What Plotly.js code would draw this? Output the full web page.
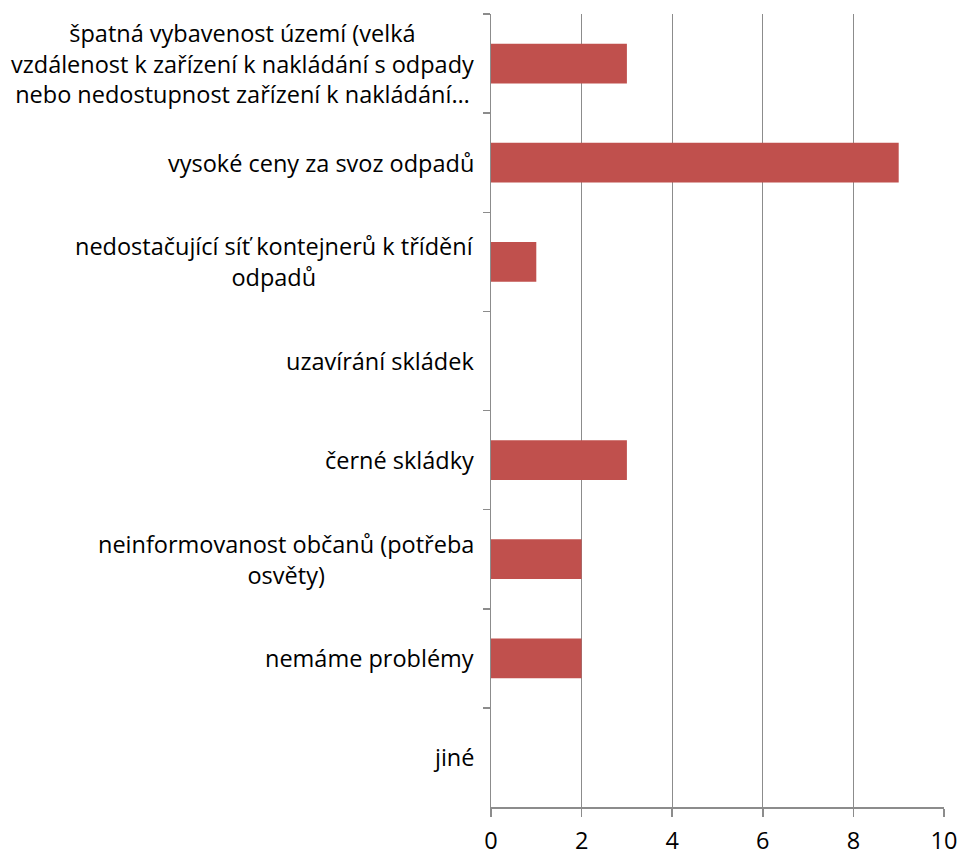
<!DOCTYPE html>
<html><head><meta charset="utf-8">
<script src="https://cdn.plot.ly/plotly-3.0.1.min.js"></script>
<style>body{margin:0;background:#fff}#chart{width:959px;height:850px}</style>
</head><body><div id="chart"></div>
<script>
const categories = [
  "špatná vybavenost území (velká<br>vzdálenost k zařízení k nakládání s odpady<br>nebo nedostupnost zařízení k nakládání…",
  "vysoké ceny za svoz odpadů",
  "nedostačující síť kontejnerů k třídění<br>odpadů",
  "uzavírání skládek",
  "černé skládky",
  "neinformovanost občanů (potřeba<br>osvěty)",
  "nemáme problémy",
  "jiné"
];
const values = [3, 9, 1, 0, 3, 2, 2, 0];
const xTicks = [0, 2, 4, 6, 8, 10];

const ids = categories.map((c, i) => "c" + i);
const font = {family: "Open Sans, Lato, sans-serif", size: 23.5, color: "#000"};

const annotations = categories.map((c, i) => ({
  text: c, xref: "paper", yref: "y", x: 0, y: ids[i],
  xanchor: "right", yanchor: "middle", align: "center",
  xshift: -15, showarrow: false, font: font
}));

Plotly.newPlot("chart", [{
  type: "bar", orientation: "h", x: values, y: ids,
  marker: {color: "#C0504D", line: {width: 0}},
  hoverinfo: "x"
}], {
  width: 959, height: 850,
  margin: {l: 491, r: 15, t: 14, b: 43},
  paper_bgcolor: "#fff", plot_bgcolor: "#fff",
  bargap: 0.6, showlegend: false,
  font: font,
  xaxis: {range: [0, 10], tickvals: xTicks, ticktext: xTicks.map(String),
    showgrid: true, gridcolor: "#8c8c8c", gridwidth: 1.2,
    showline: true, linecolor: "#8c8c8c", linewidth: 1.5,
    ticks: "outside", ticklen: 8, tickcolor: "#8c8c8c", tickwidth: 1.5,
    ticklabelstandoff: 4,
    zeroline: false, fixedrange: true, tickfont: font},
  yaxis: {type: "category", autorange: "reversed",
    showticklabels: false, showgrid: false, zeroline: false,
    showline: true, linecolor: "#8c8c8c", linewidth: 1.5,
    ticks: "outside", tickson: "boundaries", ticklen: 7, tickcolor: "#8c8c8c", tickwidth: 1.5,
    fixedrange: true},
  annotations: annotations
}, {displayModeBar: false, staticPlot: true});
</script></body></html>
